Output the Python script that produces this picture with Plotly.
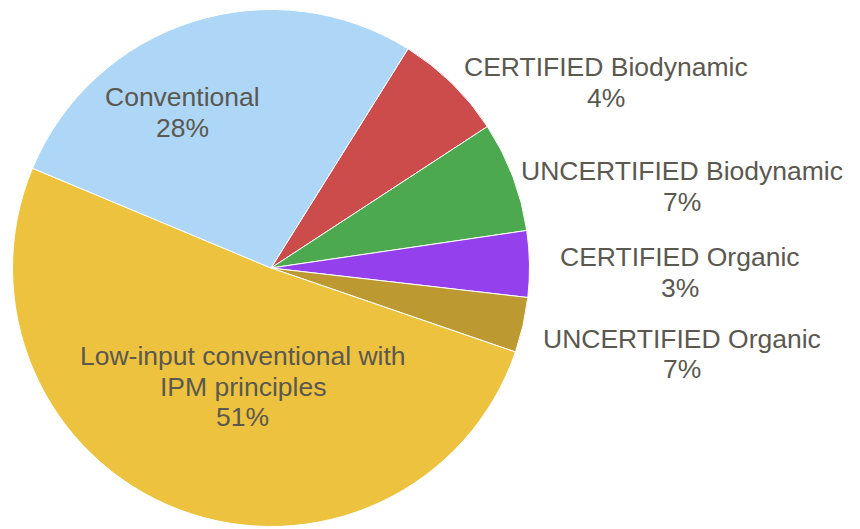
import plotly.graph_objects as go

# Slices in clockwise order starting from the top-right boundary
labels = [
    "UNCERTIFIED Biodynamic",
    "UNCERTIFIED Organic",
    "CERTIFIED Biodynamic",
    "CERTIFIED Organic",
    "Low-input conventional with<br>IPM principles",
    "Conventional",
]
values = [10, 10, 6, 5, 74, 40]  # estimated response counts
colors = ["#cc4c4c", "#4ca94f", "#9440ed", "#bd9a31", "#ecc23f", "#aed6f6"]

# Label layout (pixel centres of each text block's first line), order of labels above
label_x = [682, 681.5, 605.5, 679.5, 242.5, 182]
label_y = [171, 338.7, 67, 257, 356, 97]

OFF = 8  # page body margin
W, H = 860 - OFF, 529 - OFF
FONT = "Arial, 'Liberation Sans', Arimo, sans-serif"
TEXT_COLOR = "#5b5850"
FS = 26.5
LINE = 30.5


def px_x(p):
    return (p - OFF) / W


def px_y(p):
    return 1 - (p - OFF) / H


fig = go.Figure(
    go.Pie(
        labels=labels,
        values=values,
        sort=False,
        direction="clockwise",
        rotation=32,
        marker=dict(colors=colors, line=dict(color="white", width=1)),
        textinfo="none",
        hoverinfo="label+percent",
        domain=dict(x=[px_x(12.5), px_x(529.5)], y=[px_y(526.5), px_y(9.5)]),
    )
)

total = sum(values)
annotations = []
for lab, v, cx, cy in zip(labels, values, label_x, label_y):
    lines = lab.split("<br>") + [f"{round(100 * v / total)}%"]
    for i, line in enumerate(lines):
        annotations.append(
            dict(
                text=line,
                x=px_x(cx),
                y=px_y(cy + i * LINE),
                xref="paper",
                yref="paper",
                xanchor="center",
                yanchor="middle",
                showarrow=False,
                font=dict(family=FONT, size=FS, color=TEXT_COLOR),
            )
        )

fig.update_layout(
    width=W,
    height=H,
    margin=dict(l=0, r=0, t=0, b=0),
    paper_bgcolor="white",
    plot_bgcolor="white",
    showlegend=False,
    annotations=annotations,
)

fig.write_html("out.html")
